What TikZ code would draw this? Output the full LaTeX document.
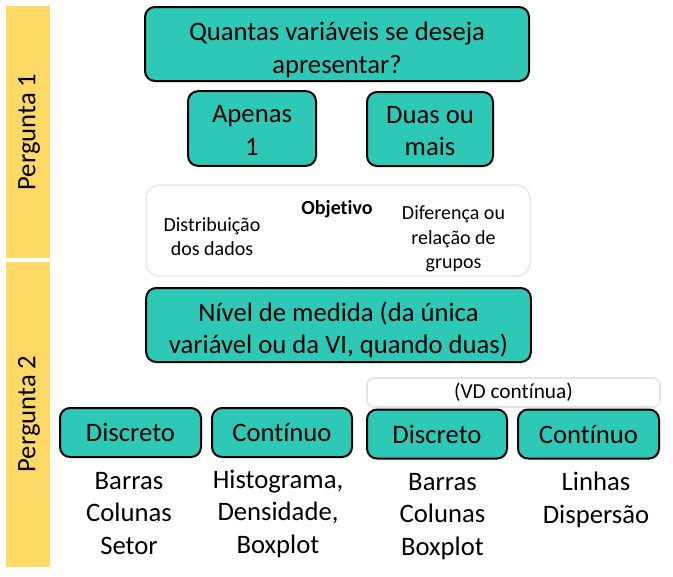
\documentclass[tikz,border=0pt]{standalone}
\usepackage{fontspec}
\setmainfont[Ligatures=NoCommon]{Carlito}
\definecolor{boxteal}{HTML}{2EC9B6}
\definecolor{bandyellow}{HTML}{FFD966}
\definecolor{framegray}{HTML}{E4E4E4}

\begin{document}
\begin{tikzpicture}[x=0.75pt, y=-0.75pt,
	every node/.style={font=\fontsize{20}{24.4}\selectfont, align=center, inner sep=0pt},
	box/.style={draw=black, line width=1.5pt, fill=boxteal, rounded corners=7.5pt},
	smalltext/.style={font=\fontsize{15}{18.3}\selectfont}]
	\useasboundingbox (0,0) rectangle (673,576);
	% faixas laterais
	\fill[bandyellow] (6,6) rectangle (50,258);
	\fill[bandyellow] (6,262) rectangle (50,567);
	\node[rotate=90] (perg1) at (29,132) {Pergunta 1};
	\node[rotate=90] (perg2) at (29,414) {Pergunta 2};
	% pergunta 1
	\node[box, minimum width=288pt, minimum height=55.5pt,
		label={[yshift=-4.5pt]center:{Quantas variáveis se deseja\\apresentar?}}] (quantas) at (337,44) {};
	\node[box, minimum width=96pt, minimum height=56pt,
		label={[yshift=-1.5pt]center:{Apenas\\1}}] (apenas) at (252,128.5) {};
	\node[box, minimum width=94.5pt, minimum height=55.5pt,
		label={[yshift=-1.5pt]center:{Duas ou\\mais}}] (duas) at (430,129) {};
	% objetivo
	\draw[framegray, line width=0.9pt, rounded corners=10pt] (146,185) rectangle (530,276);
	\node[smalltext, font=\fontsize{15}{18.3}\selectfont\bfseries] (objetivo) at (337,209) {Objetivo};
	\node[smalltext] (distrib) at (212,236.5) {Distribuição\\dos dados};
	\node[smalltext] (diferenca) at (453.5,239) {Diferença ou\\relação de\\grupos};
	% pergunta 2
	\node[box, minimum width=288.5pt, minimum height=55.5pt,
		label={[yshift=-3.75pt]center:{Nível de medida (da única\\variável ou da VI, quando duas)}}] (nivel) at (338.5,325) {};
	\draw[framegray, line width=1.2pt, rounded corners=5pt] (367,378) rectangle (660,407);
	\node[font=\fontsize{16}{19.5}\selectfont] (vd) at (513.5,392.5) {(VD contínua)};
	\node[box, minimum width=105.75pt, minimum height=36.75pt] (disc1) at (130.5,432.5) {Discreto};
	\node[box, minimum width=105pt, minimum height=36.75pt] (cont1) at (282,432.5) {Contínuo};
	\node[box, minimum width=105pt, minimum height=36.75pt] (disc2) at (437,434) {Discreto};
	\node[box, minimum width=105.75pt, minimum height=36.75pt] (cont2) at (588.5,434) {Contínuo};
	% graficos
	\node (graf1) at (129,513.5) {Barras\\Colunas\\Setor};
	\node (graf2) at (278,513.5) {Histograma,\\Densidade,\\Boxplot};
	\node (graf3) at (442.5,516.5) {Barras\\Colunas\\Boxplot};
	\node (graf4) at (596,500) {Linhas\\Dispersão};
\end{tikzpicture}
\end{document}
